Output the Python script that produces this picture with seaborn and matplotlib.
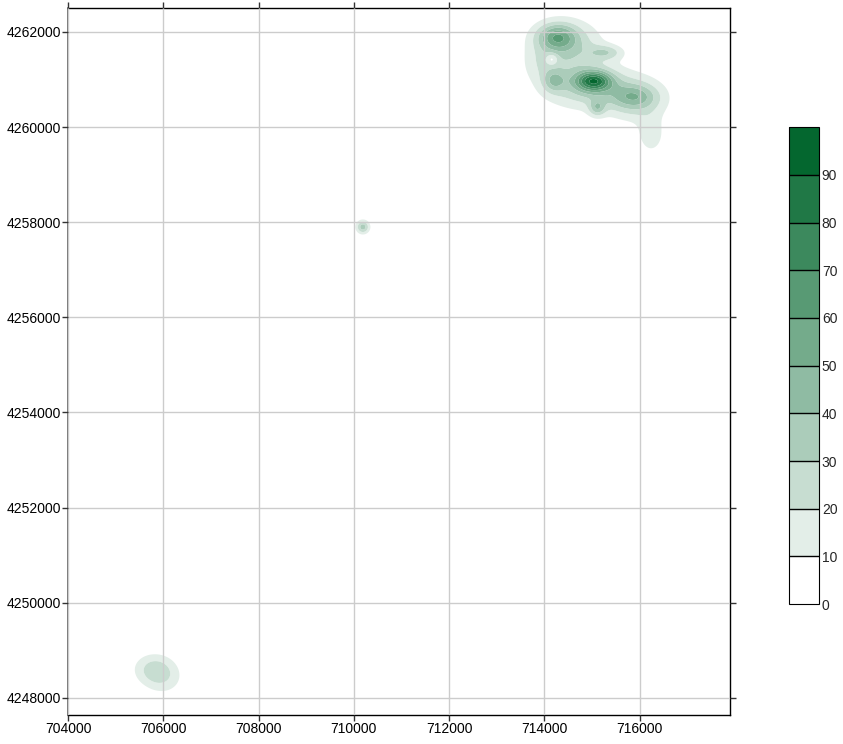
import numpy as np
import matplotlib
matplotlib.use("Agg")
import matplotlib.pyplot as plt
from matplotlib.colors import ListedColormap, to_rgb
import seaborn as sns

# Components of the surface (easting, northing in metres), peak height and spread
hot_x = [714450, 714900, 715950,
         714260, 714160, 715300, 714200, 715040, 715110, 715880, 716240, 713900,
         710190, 705804, 706014]
hot_y = [4261700, 4260850, 4260580,
         4261900, 4261430, 4261570, 4260970, 4260970, 4260400, 4260640, 4259830, 4261300,
         4257900, 4248610, 4248380]
hot_amp = [30, 30, 25,
           38, -20, 22, 24, 62, 26, 20, 16, 8,
           35, 22, 12]
hot_sx = [520, 650, 450,
          280, 90, 250, 160, 260, 120, 320, 200, 250,
          100, 300, 300]
hot_sy = [380, 330, 320,
          190, 90, 110, 160, 150, 120, 170, 280, 250,
          100, 230, 250]

levels = list(range(0, 101, 10))
cbar_ticks = list(range(0, 100, 10))
x_ticks = [704000, 706000, 708000, 710000, 712000, 714000, 716000]
y_ticks = [4248000, 4250000, 4252000, 4254000, 4256000, 4258000, 4260000, 4262000]
x_lim = (704000, 717900)
y_lim = (4247640, 4262500)

sns.set_style("whitegrid")
plt.rcParams["font.family"] = ["Liberation Sans", "DejaVu Sans"]

fig = plt.figure(figsize=(8.43, 7.44), dpi=100)
ax = fig.add_axes([0.0807, 0.039, 0.7854, 0.950])

gx = np.linspace(x_lim[0], x_lim[1], 700)
gy = np.linspace(y_lim[0], y_lim[1], 760)
X, Y = np.meshgrid(gx, gy)
Z = np.zeros_like(X)
for x0, y0, a, sx, sy in zip(hot_x, hot_y, hot_amp, hot_sx, hot_sy):
    Z += a * np.exp(-0.5 * (((X - x0) / sx) ** 2 + ((Y - y0) / sy) ** 2))
Z = np.clip(Z, 0, 99.9)

dark = np.array(to_rgb("#04672f"))
white = np.ones(3)
shades = [white + (dark - white) * i / 9 for i in range(10)]
cmap = ListedColormap(shades)

cf = ax.contourf(X, Y, Z, levels=levels, cmap=cmap, antialiased=True)

ax.set_xlim(*x_lim)
ax.set_ylim(*y_lim)
ax.set_xticks(x_ticks)
ax.set_yticks(y_ticks)
ax.ticklabel_format(useOffset=False, style="plain")
ax.grid(True, color="#cccccc", linewidth=1)
ax.set_axisbelow(False)
ax.tick_params(axis="both", which="both", direction="out", length=4, width=1,
               color="#333333", labelsize=10, labelcolor="black",
               top=True, right=True, bottom=True, left=True,
               labeltop=False, labelright=False, pad=1)
for side in ["top", "right", "bottom"]:
    ax.spines[side].set_color("black")
    ax.spines[side].set_linewidth(1)
ax.spines["left"].set_color("#666666")
ax.spines["left"].set_linewidth(1.2)

cax = fig.add_axes([0.936, 0.188, 0.0356, 0.641])
cb = fig.colorbar(cf, cax=cax, drawedges=True, ticks=cbar_ticks)
cb.outline.set_edgecolor("black")
cb.outline.set_linewidth(0.8)
cb.dividers.set_color("black")
cb.dividers.set_linewidth(1)
cax.tick_params(length=0, labelsize=10, pad=2)
cax.grid(False)

fig.savefig("out.png", dpi=100)
